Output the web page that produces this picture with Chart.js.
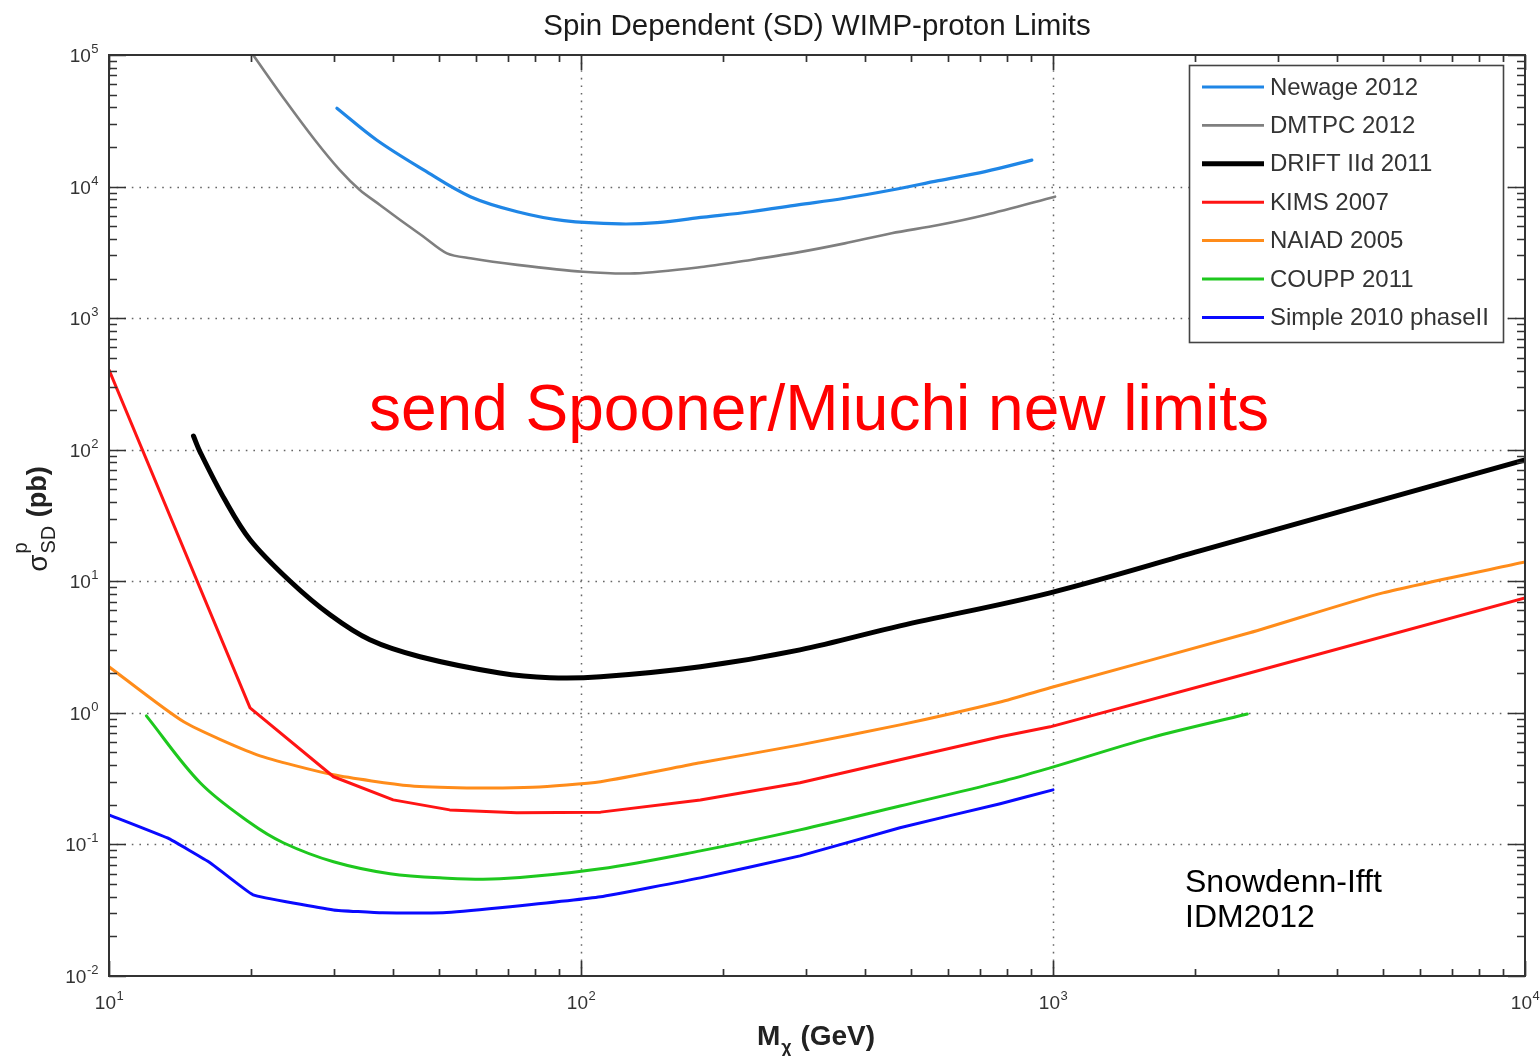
<!DOCTYPE html>
<html><head><meta charset="utf-8">
<script src="https://cdn.jsdelivr.net/npm/chart.js@4.4.0/dist/chart.umd.min.js"></script>
<style>html,body{margin:0;padding:0;background:#fff;overflow:hidden}</style>
</head><body>
<canvas id="c" width="1540" height="1056"></canvas>
<script>
// ---------- DATA ----------
const chartTitle = 'Spin Dependent (SD) WIMP-proton Limits';
const xAxisBase = 'M', xAxisSub = 'χ', xAxisUnit = ' (GeV)';
const yAxisBase = 'σ', yAxisSup = 'p', yAxisSub = 'SD', yAxisUnit = ' (pb)';
const annotationMain = 'send Spooner/Miuchi new limits';
const annotationCredit = ['Snowdenn-Ifft', 'IDM2012'];

const xTickExps = [1, 2, 3, 4];
const yTickExps = [-2, -1, 0, 1, 2, 3, 4, 5];

const seriesNames = ['Newage 2012', 'DMTPC 2012', 'DRIFT IId 2011', 'KIMS 2007', 'NAIAD 2005', 'COUPP 2011', 'Simple 2010 phaseII'];

const newageX = [30.4, 36.9, 46.4, 58.3, 73.3, 92, 121, 145, 182, 229, 288, 362, 455, 572, 718, 902];
const newageY = [39400, 22600, 13400, 8380, 6440, 5510, 5200, 5320, 5850, 6440, 7250, 8150, 9420, 11100, 13000, 15900];

const dmtpcX = [20.2, 23.6, 27.3, 30.8, 34.0, 37.5, 41.4, 46.4, 52, 58.3, 73.3, 101, 130, 182, 229, 288, 362, 455, 572, 718, 1010];
const dmtpcY = [100000, 45500, 22600, 13400, 9420, 7250, 5570, 4160, 3110, 2850, 2540, 2250, 2190, 2460, 2770, 3160, 3700, 4420, 5100, 6080, 8380];

const driftX = [15.1, 15.6, 17.6, 19.9, 24.2, 29.4, 35.7, 45.6, 67.3, 85.9, 110, 179, 291, 474, 986, 2047, 4255, 10000];
const driftY = [127, 96, 41.6, 20.7, 10, 5.56, 3.59, 2.67, 2.01, 1.85, 1.88, 2.24, 3.01, 4.58, 8.17, 17.0, 35.5, 83.7];

const kimsX = [10, 19.9, 29.9, 40, 52.7, 73.1, 110, 179, 291, 474, 773, 986, 2610, 10000];
const kimsY = [404, 1.09, 0.327, 0.218, 0.183, 0.174, 0.176, 0.218, 0.294, 0.44, 0.658, 0.783, 2.01, 7.48];

const naiadX = [10, 14.4, 20.6, 29.9, 43.4, 57.3, 79, 110, 179, 291, 474, 773, 986, 2610, 5000, 10000];
const naiadY = [2.24, 0.855, 0.48, 0.338, 0.279, 0.269, 0.272, 0.30, 0.417, 0.571, 0.81, 1.21, 1.55, 4.06, 8.17, 14.0];

const couppX = [12.0, 15.6, 19.9, 23.4, 29.9, 39.4, 50.2, 67.3, 110, 179, 291, 474, 773, 986, 1607, 2580];
const couppY = [0.948, 0.294, 0.146, 0.103, 0.0738, 0.0598, 0.0557, 0.0548, 0.0653, 0.0893, 0.129, 0.196, 0.299, 0.382, 0.646, 0.98];

const simpleX = [10, 13.3, 16.4, 20.2, 29.9, 38, 51, 67.3, 110, 179, 291, 474, 773, 1000];
const simpleY = [0.168, 0.112, 0.0724, 0.0414, 0.0318, 0.0302, 0.0302, 0.033, 0.040, 0.0557, 0.0818, 0.134, 0.204, 0.26];

// ---------- STYLE ----------
const seriesColors = ['#1f86e6', '#7f7f7f', '#000000', '#ff1414', '#ff8c1a', '#1ec81e', '#0a0aff'];
const seriesWidths = [3.2, 2.6, 5, 3, 3, 3, 3];
const seriesTension = [0.35, 0.3, 0.35, 0, 0.2, 0.35, 0.1];
const FONT = 'Arial, "Liberation Sans", Helvetica, sans-serif';
const xMin = 10, xMax = 10000, yMin = 0.01, yMax = 100000;

const allX = [newageX, dmtpcX, driftX, kimsX, naiadX, couppX, simpleX];
const allY = [newageY, dmtpcY, driftY, kimsY, naiadY, couppY, simpleY];

const datasets = seriesNames.map((name, i) => ({
  label: name,
  data: allX[i].map((x, j) => ({x: x, y: allY[i][j]})),
  borderColor: seriesColors[i],
  backgroundColor: seriesColors[i],
  borderWidth: seriesWidths[i],
  pointRadius: 0,
  fill: false,
  tension: seriesTension[i],
  borderCapStyle: 'round',
  borderJoinStyle: 'round'
}));

function drawPow(ctx, exp, xRight, xCenter, yBase, align) {
  const baseFont = '19px ' + FONT, supFont = '13px ' + FONT;
  ctx.font = baseFont; const w1 = ctx.measureText('10').width;
  ctx.font = supFont; const w2 = ctx.measureText(String(exp)).width;
  let x0;
  if (align === 'right') x0 = xRight - w1 - w2; else x0 = xCenter - (w1 + w2) / 2;
  ctx.textAlign = 'left'; ctx.textBaseline = 'alphabetic';
  ctx.font = baseFont; ctx.fillText('10', x0, yBase);
  ctx.font = supFont; ctx.fillText(String(exp), x0 + w1 + 0.5, yBase - 9);
}

const decor = {
  id: 'decor',
  beforeDatasetsDraw(chart) {
    const {ctx, chartArea: a, scales: {x, y}} = chart;
    ctx.save();
    ctx.strokeStyle = '#666'; ctx.lineWidth = 1.5; ctx.setLineDash([1.6, 6]);
    xTickExps.forEach(e => {
      const v = Math.pow(10, e); if (v <= xMin || v >= xMax) return;
      const px = Math.round(x.getPixelForValue(v)) + 0.5;
      ctx.beginPath(); ctx.moveTo(px, a.top); ctx.lineTo(px, a.bottom); ctx.stroke();
    });
    yTickExps.forEach(e => {
      const v = Math.pow(10, e); if (v <= yMin || v >= yMax) return;
      const py = Math.round(y.getPixelForValue(v)) + 0.5;
      ctx.beginPath(); ctx.moveTo(a.left, py); ctx.lineTo(a.right, py); ctx.stroke();
    });
    ctx.restore();
  },
  afterDatasetsDraw(chart) {
    const {ctx, chartArea: a, scales: {x, y}} = chart;
    ctx.save();
    // frame
    ctx.strokeStyle = '#333'; ctx.lineWidth = 2; ctx.setLineDash([]);
    ctx.strokeRect(a.left, a.top, a.right - a.left, a.bottom - a.top);
    // ticks
    ctx.lineWidth = 1.7;
    for (let d = xTickExps[0]; d <= xTickExps[xTickExps.length - 1]; d++) {
      for (let m = 1; m <= 9; m++) {
        const v = m * Math.pow(10, d); if (v < xMin || v > xMax) continue;
        const px = Math.round(x.getPixelForValue(v)) + 0.5;
        const L = m === 1 ? 15 : 7;
        ctx.beginPath(); ctx.moveTo(px, a.bottom); ctx.lineTo(px, a.bottom - L);
        ctx.moveTo(px, a.top); ctx.lineTo(px, a.top + L); ctx.stroke();
      }
    }
    for (let d = yTickExps[0]; d <= yTickExps[yTickExps.length - 1]; d++) {
      for (let m = 1; m <= 9; m++) {
        const v = m * Math.pow(10, d); if (v < yMin || v > yMax) continue;
        const py = Math.round(y.getPixelForValue(v)) + 0.5;
        const L = m === 1 ? 17 : 8;
        ctx.beginPath(); ctx.moveTo(a.left, py); ctx.lineTo(a.left + L, py);
        ctx.moveTo(a.right, py); ctx.lineTo(a.right - L, py); ctx.stroke();
      }
    }
    // tick labels
    ctx.fillStyle = '#333';
    xTickExps.forEach(e => {
      const px = x.getPixelForValue(Math.pow(10, e));
      drawPow(ctx, e, 0, px, a.bottom + 33, 'center');
    });
    yTickExps.forEach(e => {
      const py = y.getPixelForValue(Math.pow(10, e));
      drawPow(ctx, e, a.left - 11, 0, py + 7, 'right');
    });
    // title
    ctx.fillStyle = '#1a1a1a'; ctx.font = '29.5px ' + FONT; ctx.textAlign = 'center'; ctx.textBaseline = 'alphabetic';
    ctx.fillText(chartTitle, 817, 35);
    // x axis title
    {
      const bf = 'bold 28px ' + FONT, sf = 'bold 18px ' + FONT;
      ctx.font = bf; const w1 = ctx.measureText(xAxisBase).width; const w3 = ctx.measureText(xAxisUnit).width;
      ctx.font = sf; const w2 = ctx.measureText(xAxisSub).width;
      let x0 = 815 - (w1 + w2 + w3) / 2; const yb = 1045;
      ctx.textAlign = 'left'; ctx.fillStyle = '#222';
      ctx.font = bf; ctx.fillText(xAxisBase, x0, yb);
      ctx.font = sf; ctx.fillText(xAxisSub, x0 + w1 + 1, yb + 8);
      ctx.font = bf; ctx.fillText(xAxisUnit, x0 + w1 + w2 + 2, yb);
    }
    // y axis title
    {
      ctx.save();
      ctx.translate(40, 520); ctx.rotate(-Math.PI / 2);
      const mf = '28px ' + FONT, sf = '20px ' + FONT, uf = 'bold 27px ' + FONT;
      ctx.font = mf; const w1 = ctx.measureText(yAxisBase).width;
      ctx.font = sf; const w2 = Math.max(ctx.measureText(yAxisSup).width, ctx.measureText(yAxisSub).width);
      ctx.font = uf; const w3 = ctx.measureText(yAxisUnit).width;
      let u0 = -(w1 + w2 + w3) / 2;
      ctx.textAlign = 'left'; ctx.fillStyle = '#222';
      ctx.font = mf; ctx.fillText(yAxisBase, u0, 7);
      ctx.font = sf; ctx.fillText(yAxisSup, u0 + w1 + 1, -13);
      ctx.fillText(yAxisSub, u0 + w1 + 1, 15);
      ctx.font = uf; ctx.fillText(yAxisUnit, u0 + w1 + w2 + 2, 6);
      ctx.restore();
    }
    // legend
    {
      const bx = 1189, by = 65, bw = 314, bh = 277;
      ctx.fillStyle = '#fff'; ctx.fillRect(bx, by, bw, bh);
      ctx.strokeStyle = '#444'; ctx.lineWidth = 1.6; ctx.strokeRect(bx + 0.5, by + 0.5, bw, bh);
      ctx.font = '24px ' + FONT; ctx.textAlign = 'left'; ctx.textBaseline = 'middle';
      chart.data.datasets.forEach((ds, i) => {
        const yy = 87 + i * 38.4;
        ctx.strokeStyle = ds.borderColor; ctx.lineWidth = ds.borderWidth;
        ctx.beginPath(); ctx.moveTo(1202, yy); ctx.lineTo(1264, yy); ctx.stroke();
        ctx.fillStyle = '#333'; ctx.fillText(ds.label, 1270, yy + 1);
      });
    }
    // annotations
    ctx.textBaseline = 'alphabetic'; ctx.textAlign = 'left';
    ctx.fillStyle = '#ff0000'; ctx.font = '64px ' + FONT;
    ctx.fillText(annotationMain, 369, 430);
    ctx.fillStyle = '#000'; ctx.font = '32px ' + FONT;
    ctx.fillText(annotationCredit[0], 1185, 892);
    ctx.fillText(annotationCredit[1], 1185, 927);
    ctx.restore();
  }
};

new Chart(document.getElementById('c'), {
  type: 'line',
  data: {datasets},
  options: {
    responsive: false,
    animation: false,
    devicePixelRatio: 1,
    layout: {padding: {left: 109, right: 15, top: 55, bottom: 80}},
    plugins: {legend: {display: false}, tooltip: {enabled: false}, title: {display: false}},
    scales: {
      x: {type: 'logarithmic', min: xMin, max: xMax, grid: {display: false}, border: {display: false},
          ticks: {display: false}, afterFit: s => { s.height = 0; }},
      y: {type: 'logarithmic', min: yMin, max: yMax, grid: {display: false}, border: {display: false},
          ticks: {display: false}, afterFit: s => { s.width = 0; }}
    }
  },
  plugins: [decor]
});
</script>
</body></html>
